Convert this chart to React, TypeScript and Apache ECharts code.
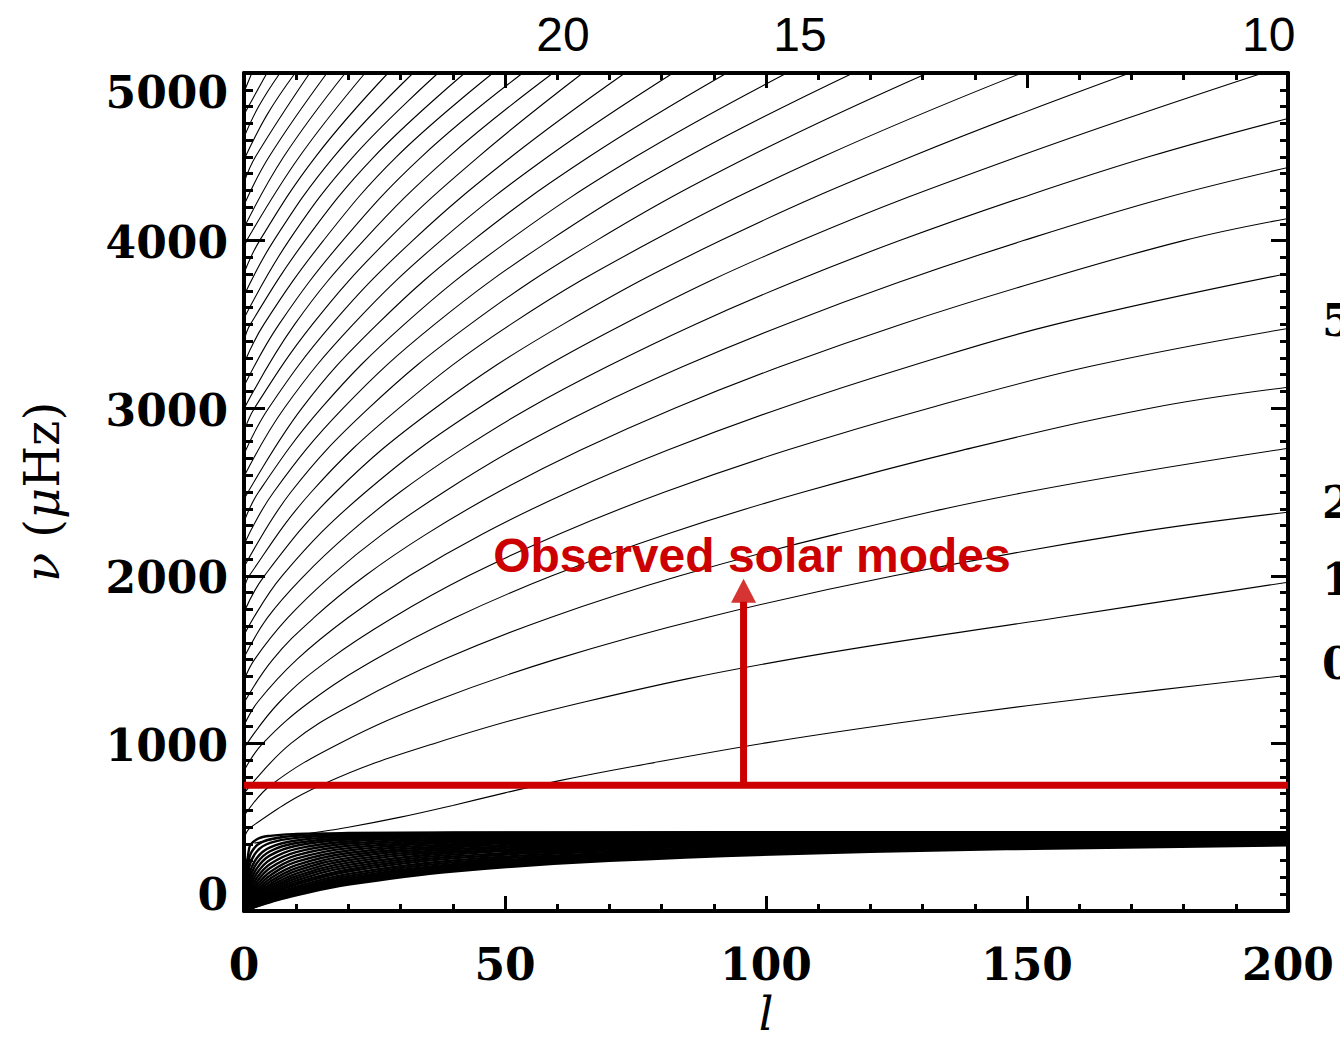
import React, { useEffect, useRef } from "react";
import * as echarts from "echarts";

// ---------- axes ----------
const L_MIN = 0;
const L_MAX = 200;
const NU_MIN = 0;
const NU_MAX = 5000;

// labels of the upper (secondary) scale, and the degree l at which each sits
const topScaleLabels = ["20", "15", "10"];
const topScaleLabelL = [61.1, 106.5, 196.3];

// partially visible labels at the right border, and their frequency (µHz)
const rightCutLabels = ["5", "2", "1", "0"];
const rightCutLabelNu = [3524, 2435, 1976, 1476];

// ---------- f mode ridge [l, nu(µHz)] ----------
const fModeRidge = [
  [2, 405], [10, 450], [20, 500], [30, 560], [40, 630], [50, 705], [60, 775],
  [75, 865], [100, 1003], [125, 1120], [150, 1225], [175, 1318], [200, 1407],
];

// ---------- p mode ridges [l, nu(µHz)], radial order 1 .. 34 ----------
const pModeRidges = [
  [[0, 432], [1.3, 500], [14.7, 750], [36.5, 1000], [65.6, 1250], [104.3, 1500], [155.8, 1750], [200, 1962]],
  [[0, 567], [5.1, 750], [18.3, 1000], [36.4, 1250], [59.5, 1500], [88.5, 1750], [124.5, 2000], [169.1, 2250], [200, 2379]],
  [[0, 702], [9.0, 1000], [21.8, 1250], [38.2, 1500], [58.6, 1750], [83.5, 2000], [113.7, 2250], [150, 2500], [200, 2761]],
  [[0, 837], [3.6, 1000], [12.7, 1250], [25.1, 1500], [40.4, 1750], [59.0, 2000], [81.1, 2250], [107.2, 2500], [137.7, 2750], [173.6, 3000], [200, 3125]],
  [[0, 972], [6.9, 1250], [16.3, 1500], [28.5, 1750], [43.0, 2000], [60.4, 2250], [80.6, 2500], [104.1, 2750], [131.2, 3000], [162.2, 3250], [200, 3476]],
  [[0, 1107], [2.7, 1250], [10.1, 1500], [19.9, 1750], [31.7, 2000], [45.7, 2250], [62.2, 2500], [81.2, 2750], [102.9, 3000], [127.6, 3250], [155.4, 3500], [200, 3804]],
  [[0, 1242], [5.5, 1500], [13.4, 1750], [23.2, 2000], [35.0, 2250], [48.7, 2500], [64.5, 2750], [82.5, 3000], [102.9, 3250], [125.8, 3500], [151.5, 3750], [180.0, 4000], [200, 4132]],
  [[0, 1377], [2.0, 1500], [8.4, 1750], [16.7, 2000], [26.6, 2250], [38.3, 2500], [51.5, 2750], [66.8, 3000], [84.2, 3250], [103.7, 3500], [125.3, 3750], [149.3, 4000], [175.9, 4250], [200, 4436]],
  [[0, 1512], [4.5, 1750], [11.5, 2000], [20.0, 2250], [29.9, 2500], [41.5, 2750], [54.6, 3000], [69.7, 3250], [86.4, 3500], [105.0, 3750], [125.6, 4000], [148.4, 4250], [173.3, 4500], [200, 4729]],
  [[0, 1647], [7.3, 2000], [23.3, 2500], [44.9, 3000], [72.6, 3500], [106.7, 4000], [148.2, 4500], [195.2, 5000]],
  [[0, 1782], [3.9, 2000], [17.6, 2500], [36.6, 3000], [61.1, 3500], [91.3, 4000], [127.8, 4500], [169.7, 5000]],
  [[0, 1917], [1.0, 2000], [12.9, 2500], [29.7, 3000], [51.1, 3500], [78.4, 4000], [110.9, 4500], [149, 5000]],
  [[0, 2052], [9.0, 2500], [23.9, 3000], [43.3, 3500], [67.5, 4000], [96.7, 4500], [131, 5000]],
  [[0, 2187], [5.7, 2500], [19.0, 3000], [36.5, 3500], [58.5, 4000], [85.0, 4500], [116.7, 5000]],
  [[0, 2322], [2.8, 2500], [14.8, 3000], [30.7, 3500], [50.7, 4000], [75.0, 4500], [104, 5000]],
  [[0, 2457], [11.1, 3000], [25.5, 3500], [43.8, 4000], [66.1, 4500], [92.5, 5000]],
  [[0, 2592], [7.7, 3000], [20.9, 3500], [37.7, 4000], [58.2, 4500], [82.2, 5000]],
  [[0, 2727], [4.7, 3000], [16.8, 3500], [32.3, 4000], [51.2, 4500], [73, 5000]],
  [[0, 2862], [2.0, 3000], [13.1, 3500], [27.4, 4000], [44.9, 4500], [64.9, 5000]],
  [[0, 2997], [9.7, 3500], [22.9, 4000], [39.2, 4500], [59.2, 5000]],
  [[0, 3132], [6.7, 3500], [18.9, 4000], [34.0, 4500], [53.4, 5000]],
  [[0, 3267], [3.8, 3500], [15.2, 4000], [29.2, 4500], [47.7, 5000]],
  [[0, 3402], [1.2, 3500], [11.7, 4000], [24.9, 4500], [42.3, 5000]],
  [[0, 3537], [8.6, 4000], [20.9, 4500], [37.2, 5000]],
  [[0, 3672], [5.7, 4000], [17.2, 4500], [32.4, 5000]],
  [[0, 3807], [3.0, 4000], [13.7, 4500], [27.6, 5000]],
  [[0, 3942], [0.5, 4000], [10.6, 4500], [23.2, 5000]],
  [[0, 4077], [7.6, 4500], [19.4, 5000]],
  [[0, 4212], [4.8, 4500], [15.9, 5000]],
  [[0, 4347], [2.2, 4500], [12.6, 5000]],
  [[0, 4482], [4.4, 4750], [9.8, 5000]],
  [[0, 4617], [2.8, 4800], [6.9, 5000]],
  [[0, 4752], [4.4, 5000]],
  [[0, 4887], [1.5, 5000]],
];

// ---------- g mode ridges: degrees shared by all, one row of nu per ridge ----------
const gModeL = [0, 1, 2.5, 5, 10, 20, 40, 70, 120, 200];
const gModeNu = [
  [0, 376.8, 428.2, 448.6, 459.5, 465.2, 468.1, 469.3, 470.0, 470.4],
  [0, 314.0, 392.5, 428.2, 448.6, 459.5, 465.2, 467.7, 469.0, 469.8],
  [0, 261.7, 356.8, 406.0, 436.1, 452.9, 461.8, 465.7, 467.9, 469.1],
  [0, 214.1, 318.2, 379.8, 420.5, 444.3, 457.3, 463.1, 466.3, 468.2],
  [0, 181.2, 287.2, 356.8, 406.0, 436.1, 452.9, 460.5, 464.8, 467.3],
  [0, 151.9, 256.0, 331.7, 389.3, 426.2, 447.5, 457.3, 462.9, 466.1],
  [0, 127.3, 226.4, 305.8, 370.9, 415.0, 441.2, 453.5, 460.6, 464.7],
  [0, 107.0, 199.6, 280.4, 351.5, 402.6, 434.1, 449.2, 458.0, 463.1],
  [0, 90.6, 175.7, 256.0, 331.7, 389.3, 426.2, 444.3, 455.1, 461.3],
  [0, 77.2, 154.9, 233.2, 311.9, 375.3, 417.7, 439.0, 451.8, 459.3],
  [0, 66.3, 136.9, 212.2, 292.5, 360.9, 408.7, 433.2, 448.2, 457.1],
  [0, 57.4, 121.4, 193.0, 273.8, 346.3, 399.2, 427.1, 444.3, 454.6],
  [0, 50.1, 108.0, 175.7, 256.0, 331.7, 389.3, 420.5, 440.2, 452.0],
  [0, 44.0, 96.5, 160.2, 239.1, 317.2, 379.1, 413.7, 435.8, 449.2],
  [0, 38.9, 86.6, 146.3, 223.2, 302.9, 368.7, 406.5, 431.1, 446.2],
  [0, 34.6, 78.0, 133.8, 208.4, 289.0, 358.2, 399.2, 426.2, 443.1],
  [0, 31.0, 70.5, 122.7, 194.6, 275.4, 347.6, 391.6, 421.2, 439.8],
  [0, 27.7, 63.6, 112.1, 181.2, 261.7, 336.4, 383.4, 415.6, 436.1],
  [0, 24.8, 57.4, 102.4, 168.2, 247.9, 324.8, 374.7, 409.6, 432.1],
  [0, 22.4, 52.3, 94.2, 157.0, 235.5, 314.0, 366.3, 403.7, 428.2],
  [0, 20.0, 47.1, 85.6, 144.9, 221.6, 301.4, 356.4, 396.6, 423.4],
  [0, 18.1, 42.8, 78.5, 134.6, 209.3, 289.8, 347.1, 389.8, 418.7],
  [0, 16.5, 39.3, 72.5, 125.6, 198.3, 279.1, 338.2, 383.2, 414.1],
  [0, 15.2, 36.2, 67.3, 117.8, 188.4, 269.1, 329.7, 376.8, 409.6],
  [0, 14.1, 33.6, 62.8, 110.8, 179.4, 259.9, 321.7, 370.6, 405.2],
  [0, 13.1, 31.4, 58.9, 104.7, 171.3, 251.2, 314.0, 364.6, 400.9],
  [0, 12.2, 29.4, 55.4, 99.2, 163.8, 243.1, 306.7, 358.9, 396.6],
  [0, 11.5, 27.7, 52.3, 94.2, 157.0, 235.5, 299.7, 353.3, 392.5],
];

// ---------- annotation ----------
const annotationText = "Observed solar modes";
const cutoffLine = [[0, 750], [200, 750]];
const arrowShaft = [[95.7, 750], [95.7, 1845]];
const arrowHead = [[95.7, 1911]];
const annotationAnchor = [97.3, 2119];

const RED = "#CC0000";
const SERIF = "'DejaVu Serif', serif";
const SANS = "'Liberation Sans', Arial, sans-serif";

export default function App() {
  const ref = useRef<HTMLDivElement>(null);

  useEffect(() => {
    if (!ref.current) return;
    const chart = echarts.init(ref.current, null, { renderer: "svg" });

    const labelFont = { fontFamily: SERIF, fontWeight: "bold" as const, fontSize: 44, color: "#000" };
    const axisLine = { show: true, onZero: false, lineStyle: { color: "#000", width: 4 } };

    const ridgeLine = (data: number[][], width: number) => ({
      type: "line",
      data,
      xAxisIndex: 0,
      yAxisIndex: 0,
      showSymbol: false,
      symbol: "none",
      smooth: 0.4,
      silent: true,
      lineStyle: { color: "#000", width },
      z: 2,
    });

    const series: any[] = [];
    gModeNu.forEach((row) => {
      series.push(ridgeLine(row.map((v, i) => [gModeL[i], v]), 2.4));
    });
    series.push(ridgeLine(fModeRidge, 1.1));
    pModeRidges.forEach((r) => series.push(ridgeLine(r, 1.1)));

    series.push({
      type: "line",
      data: cutoffLine,
      showSymbol: false,
      symbol: "none",
      silent: true,
      lineStyle: { color: RED, width: 7 },
      z: 6,
    });
    series.push({
      type: "line",
      data: arrowShaft,
      showSymbol: false,
      symbol: "none",
      silent: true,
      lineStyle: { color: RED, width: 7 },
      z: 6,
    });
    series.push({
      type: "scatter",
      data: arrowHead,
      symbol: "triangle",
      symbolSize: [25, 24],
      silent: true,
      itemStyle: { color: RED },
      z: 7,
    });

    const xTicks = {
      axisTick: { show: true, inside: true, length: 15, lineStyle: { color: "#000", width: 3 } },
      minorTick: { show: true, splitNumber: 5, length: 7, lineStyle: { color: "#000", width: 3 } },
    };

    const option: any = {
      animation: false,
      backgroundColor: "#fff",
      grid: { left: 244, right: 52, top: 73, bottom: 136, containLabel: false, outerBoundsMode: "none" },
      xAxis: [
        {
          type: "value",
          position: "bottom",
          min: L_MIN,
          max: L_MAX,
          interval: 50,
          axisLine,
          ...xTicks,
          splitLine: { show: false },
          axisLabel: { ...labelFont, margin: 31 },
          name: "l",
          nameLocation: "middle",
          nameGap: 80,
          nameTextStyle: {
            fontFamily: SERIF,
            fontStyle: "italic",
            fontSize: 46,
            lineHeight: 46,
            color: "#000",
          },
        },
        {
          type: "value",
          position: "top",
          min: L_MIN,
          max: L_MAX,
          interval: 50,
          axisLine,
          ...xTicks,
          splitLine: { show: false },
          axisLabel: { show: false },
        },
      ],
      yAxis: [
        {
          type: "value",
          position: "left",
          min: NU_MIN,
          max: NU_MAX,
          interval: 1000,
          axisLine,
          axisTick: { show: true, inside: true, length: 21, lineStyle: { color: "#000", width: 3 } },
          minorTick: { show: true, splitNumber: 10, length: 9, lineStyle: { color: "#000", width: 3 } },
          splitLine: { show: false },
          axisLabel: {
            ...labelFont,
            margin: 16,
            formatter: (v: number) =>
              v === NU_MAX ? `{top|${v}}` : v === NU_MIN ? `{bot|${v}}` : `{n|${v}}`,
            rich: {
              n: { ...labelFont, padding: [4, 0, 0, 0] },
              top: { ...labelFont, padding: [38, 0, 0, 0] },
              bot: { ...labelFont, padding: [0, 0, 34, 0] },
            },
          },
          name: "{it|ν} ({it|μ}Hz)",
          nameLocation: "middle",
          nameRotate: 90,
          nameGap: 178,
          nameTextStyle: {
            fontFamily: SERIF,
            fontSize: 48,
            color: "#000",
            rich: {
              it: { fontFamily: SERIF, fontStyle: "italic", fontSize: 48, color: "#000" },
            },
          },
        },
        {
          type: "value",
          position: "right",
          min: NU_MIN,
          max: NU_MAX,
          interval: 1000,
          axisLine,
          axisTick: { show: true, inside: true, length: 17, lineStyle: { color: "#000", width: 3 } },
          minorTick: { show: true, splitNumber: 10, length: 8, lineStyle: { color: "#000", width: 3 } },
          splitLine: { show: false },
          axisLabel: { show: false },
        },
      ],
      series,
    };

    chart.setOption(option);

    const toPx = (p: number[]) => chart.convertToPixel({ gridIndex: 0 }, p) as number[];
    const graphic: any[] = [];
    topScaleLabels.forEach((t, i) => {
      const [x] = toPx([topScaleLabelL[i], NU_MAX]);
      graphic.push({
        type: "text",
        x,
        y: 34,
        style: {
          text: t,
          font: `48px ${SANS}`,
          fill: "#000",
          textAlign: "center",
          textVerticalAlign: "middle",
        },
        z: 10,
      });
    });
    rightCutLabels.forEach((t, i) => {
      const [, y] = toPx([L_MAX, rightCutLabelNu[i]]);
      graphic.push({
        type: "text",
        x: 1322,
        y,
        style: {
          text: t,
          font: `bold 44px ${SERIF}`,
          fill: "#000",
          textAlign: "left",
          textVerticalAlign: "middle",
        },
        z: 10,
      });
    });
    const [ax, ay] = toPx(annotationAnchor);
    graphic.push({
      type: "text",
      x: ax,
      y: ay,
      style: {
        text: annotationText,
        font: `bold 48px ${SANS}`,
        fill: RED,
        textAlign: "center",
        textVerticalAlign: "middle",
      },
      z: 20,
    });
    chart.setOption({ graphic });

    return () => chart.dispose();
  }, []);

  return (
    <div
      ref={ref}
      style={{ position: "absolute", left: 0, top: 0, width: 1340, height: 1047, background: "#fff" }}
    />
  );
}
